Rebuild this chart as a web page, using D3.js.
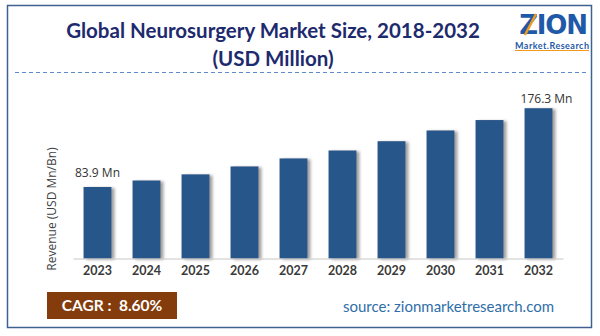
<!DOCTYPE html>
<html><head><meta charset="utf-8">
<script src="https://cdn.jsdelivr.net/npm/d3@7"></script>
<style>
html,body{margin:0;padding:0;background:#fff;}
svg{display:block;font-family:Lato,"Open Sans",sans-serif;}
</style></head>
<body><svg id="c" width="600" height="336"></svg>
<script>
const years = ["2023","2024","2025","2026","2027","2028","2029","2030","2031","2032"];
const revenue = [83.9, 91.5, 98.7, 108.0, 117.4, 126.7, 137.6, 150.2, 162.4, 176.3];
const valueLabels = [{year:"2023", text:"83.9 Mn"}, {year:"2032", text:"176.3 Mn"}];
const titleLines = ["Global Neurosurgery Market Size, 2018-2032", "(USD Million)"];
const cagrText = "CAGR :  8.60%";
const sourceText = "source: zionmarketresearch.com";
const yLabel = "Revenue (USD Mn/Bn)";

const svg = d3.select("#c");
const defs = svg.append("defs");
const f = defs.append("filter").attr("id","sh").attr("x","-20%").attr("y","-20%").attr("width","160%").attr("height","140%");
f.append("feDropShadow").attr("dx",3).attr("dy",1).attr("stdDeviation",1.6).attr("flood-color","#7f7f7f").attr("flood-opacity",0.75);

// frame
svg.append("rect").attr("x",7.5).attr("y",5.5).attr("width",584).attr("height",322)
  .attr("fill","#fff").attr("stroke","#3f6190").attr("stroke-width",1.5);

// title
svg.append("text").attr("x",273).attr("y",38).attr("text-anchor","middle")
  .attr("font-size",20.5).attr("font-weight",700).attr("fill","#1e2a6e").text(titleLines[0]);
svg.append("text").attr("x",273).attr("y",66).attr("text-anchor","middle")
  .attr("font-size",20.5).attr("font-weight",700).attr("fill","#1e2a6e").text(titleLines[1]);

// dashed line
svg.append("line").attr("x1",15).attr("x2",586).attr("y1",72.5).attr("y2",72.5)
  .attr("stroke","#5a8ccb").attr("stroke-width",1).attr("stroke-dasharray","4,3");

// logo
const lg = svg.append("g");
lg.append("text").attr("x",553).attr("y",34).attr("text-anchor","middle")
  .attr("font-family","'DejaVu Sans',sans-serif").attr("font-size",26).attr("font-weight",700)
  .attr("letter-spacing",-1.2).attr("fill","#1f5aa8").text("ZION");
lg.append("line").attr("x1",525).attr("y1",35).attr("x2",536).attr("y2",14)
  .attr("stroke","#f29a1f").attr("stroke-width",2.5);
lg.append("text").attr("x",515).attr("y",49).attr("font-size",9).attr("font-weight",700)
  .attr("fill","#1f5aa8").attr("textLength",74).text("Market.Research");
lg.append("line").attr("x1",515).attr("x2",589).attr("y1",50.5).attr("y2",50.5)
  .attr("stroke","#f29a1f").attr("stroke-width",1);

// scales
const x = d3.scaleBand().domain(years).range([73,563]).paddingInner(0.43).paddingOuter(0.215);
const y = d3.scaleLinear().domain([0,200]).range([258.5,88]);

// bars
svg.append("g").selectAll("rect").data(years).join("rect")
  .attr("x",d=>x(d)).attr("width",x.bandwidth())
  .attr("y",(d,i)=>y(revenue[i])).attr("height",(d,i)=>y(0)-y(revenue[i]))
  .attr("fill","#27578a").attr("filter","url(#sh)");

// x axis
const xa = svg.append("g").attr("transform",`translate(0,${y(0)})`)
  .call(d3.axisBottom(x).tickSize(0).tickPadding(8));
xa.select(".domain").attr("stroke","#c8c8c8").attr("stroke-width",1.2);
xa.selectAll("text").attr("font-family","Lato,sans-serif").attr("font-size",12.5)
  .attr("font-weight",700).attr("fill","#3a3a3a");

// value labels
svg.append("g").selectAll("text").data(valueLabels).join("text")
  .attr("x",d=>x(d.year)+x.bandwidth()/2 + (d.year==="2032"?8:0))
  .attr("y",d=>y(revenue[years.indexOf(d.year)]) - (d.year==="2032"?5:10))
  .attr("text-anchor","middle").attr("font-size",12).attr("fill","#333")
  .attr("font-family","'Open Sans',sans-serif").text(d=>d.text);

// y label
svg.append("text").attr("transform","translate(56,209) rotate(-90)").attr("text-anchor","middle")
  .attr("font-size",12).attr("fill","#404040").attr("font-family","'Open Sans',sans-serif").text(yLabel);

// CAGR box
svg.append("rect").attr("x",47).attr("y",292).attr("width",130).attr("height",27).attr("fill","#843c0c");
svg.append("text").attr("x",112).attr("y",311).attr("text-anchor","middle")
  .attr("font-size",15.5).attr("font-weight",700).attr("fill","#fff").attr("xml:space","preserve").text(cagrText);

// source
svg.append("text").attr("x",343).attr("y",312).attr("font-size",15)
  .attr("fill","#2f6ea8").attr("font-family","Lato,sans-serif").text(sourceText);
</script></body></html>
